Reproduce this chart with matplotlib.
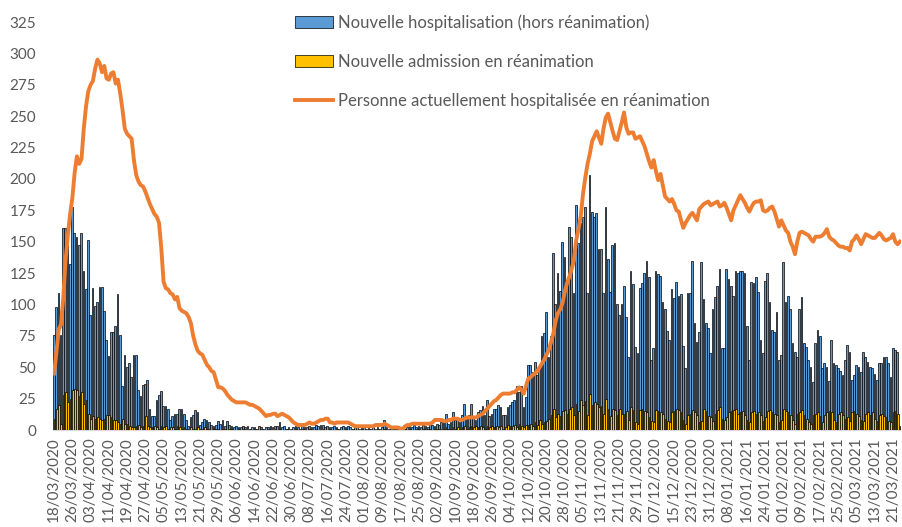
import matplotlib.pyplot as plt
import numpy as np
import pandas as pd

plt.rcParams['font.family'] = ['Lato', 'DejaVu Sans']

# one row = 8 days (one tick label), first day 18/03/2020
hosp = [
    76, 98, 109, 76, 161, 161, 147, 132,
    178, 157, 154, 147, 157, 127, 112, 151,
    92, 113, 99, 102, 114, 114, 95, 72,
    59, 78, 78, 83, 108, 76, 35, 60,
    50, 53, 42, 60, 60, 32, 27, 36,
    37, 40, 17, 11, 11, 24, 28, 31,
    19, 19, 17, 8, 11, 13, 13, 17,
    17, 13, 8, 3, 10, 12, 16, 14,
    4, 6, 9, 8, 6, 4, 3, 4,
    7, 5, 8, 3, 7, 4, 3, 2,
    3, 2, 2, 3, 2, 3, 1, 2,
    2, 1, 3, 2, 1, 2, 2, 3,
    2, 3, 3, 6, 2, 3, 1, 2,
    1, 2, 3, 2, 1, 3, 2, 2,
    3, 2, 2, 4, 3, 4, 4, 2,
    3, 2, 2, 3, 2, 1, 2, 3,
    2, 3, 2, 1, 2, 3, 1, 2,
    2, 1, 2, 1, 2, 1, 2, 1,
    2, 8, 2, 1, 1, 2, 1, 1,
    1, 2, 1, 2, 3, 2, 4, 2,
    3, 2, 4, 3, 2, 5, 4, 3,
    5, 4, 6, 8, 13, 5, 6, 14,
    8, 10, 6, 12, 21, 9, 12, 21,
    10, 8, 14, 16, 19, 12, 24, 11,
    13, 17, 17, 20, 18, 12, 12, 18,
    20, 22, 24, 35, 30, 35, 18, 26,
    52, 52, 46, 54, 44, 50, 75, 77,
    94, 58, 75, 141, 100, 125, 111, 150,
    138, 119, 162, 154, 109, 179, 149, 165,
    170, 178, 109, 203, 174, 170, 173, 144,
    144, 109, 178, 136, 110, 147, 149, 100,
    92, 100, 115, 90, 58, 127, 116, 66,
    61, 113, 117, 125, 135, 122, 56, 65,
    127, 124, 123, 102, 96, 79, 72, 112,
    105, 118, 107, 108, 67, 49, 109, 109,
    135, 85, 70, 78, 134, 104, 85, 81,
    61, 96, 106, 115, 128, 65, 65, 128,
    120, 115, 107, 127, 125, 127, 127, 125,
    83, 56, 118, 117, 122, 110, 72, 61,
    119, 125, 102, 80, 78, 94, 56, 60,
    134, 102, 107, 96, 69, 62, 58, 96,
    106, 69, 66, 56, 50, 38, 69, 80,
    75, 49, 53, 50, 39, 72, 53, 52,
    49, 47, 44, 56, 68, 62, 40, 44,
    52, 50, 46, 62, 58, 54, 50, 49,
    45, 40, 53, 53, 58, 58, 53, 42,
    65, 64, 62, 3,
]

rea = [
    9, 17, 20, 5, 28, 30, 22, 25,
    32, 33, 32, 27, 30, 21, 24, 13,
    9, 11, 9, 10, 9, 8, 9, 12,
    12, 10, 8, 8, 6, 5, 9, 5,
    5, 3, 2, 2, 3, 4, 2, 3,
    11, 3, 2, 2, 3, 2, 1, 3,
    2, 3, 1, 2, 2, 1, 3, 2,
    1, 2, 1, 0, 2, 1, 1, 2,
    1, 1, 2, 1, 1, 0, 1, 1,
    1, 0, 1, 1, 0, 1, 1, 0,
    0, 1, 0, 1, 0, 0, 1, 0,
    1, 0, 0, 1, 0, 0, 1, 0,
    0, 1, 0, 1, 0, 0, 1, 0,
    0, 0, 1, 0, 0, 1, 0, 0,
    1, 0, 0, 1, 0, 0, 1, 0,
    0, 1, 0, 0, 1, 0, 0, 0,
    1, 0, 0, 1, 0, 0, 0, 1,
    0, 0, 1, 0, 0, 0, 1, 0,
    0, 1, 0, 0, 0, 1, 0, 0,
    0, 0, 1, 0, 1, 0, 0, 1,
    1, 0, 1, 0, 1, 1, 0, 1,
    1, 1, 0, 1, 2, 1, 1, 2,
    1, 2, 1, 2, 3, 1, 2, 3,
    2, 3, 2, 3, 2, 1, 3, 2,
    3, 2, 3, 2, 3, 1, 2, 4,
    3, 3, 4, 2, 5, 3, 2, 4,
    4, 5, 3, 6, 4, 8, 5, 6,
    7, 9, 12, 17, 10, 13, 11, 15,
    16, 13, 17, 18, 12, 21, 15, 24,
    20, 23, 12, 29, 20, 22, 21, 18,
    19, 13, 25, 17, 11, 17, 16, 12,
    17, 13, 13, 15, 8, 18, 16, 6,
    5, 16, 17, 15, 14, 10, 7, 6,
    16, 15, 14, 13, 9, 7, 6, 14,
    15, 17, 16, 14, 8, 5, 12, 13,
    16, 14, 12, 6, 7, 17, 15, 11,
    10, 7, 13, 16, 18, 9, 8, 10,
    14, 15, 16, 17, 13, 14, 15, 12,
    8, 6, 14, 15, 13, 14, 12, 7,
    10, 15, 16, 14, 13, 12, 6, 8,
    17, 15, 14, 12, 8, 5, 13, 14,
    16, 12, 9, 6, 5, 12, 13, 14,
    11, 6, 12, 14, 15, 14, 8, 6,
    13, 14, 12, 9, 10, 7, 14, 15,
    13, 11, 8, 7, 13, 14, 12, 14,
    9, 7, 12, 13, 11, 10, 7, 6,
    14, 15, 13, 1,
]

en_rea = [
    45, 62, 80, 84, 105, 135, 155, 172,
    185, 205, 218, 212, 216, 240, 258, 270,
    275, 278, 288, 295, 292, 285, 290, 280,
    279, 284, 285, 276, 279, 268, 255, 240,
    236, 234, 232, 215, 203, 198, 195, 194,
    190, 185, 180, 176, 172, 170, 165, 145,
    118, 113, 112, 109, 108, 104, 106, 97,
    95, 94, 93, 90, 85, 75, 68, 63,
    61, 60, 56, 52, 50, 47, 46, 40,
    34, 34, 33, 31, 28, 26, 24, 23,
    22, 22, 22, 22, 22, 21, 20, 20,
    19, 18, 17, 15, 13, 11, 12, 12,
    13, 13, 11, 12, 13, 12, 11, 10,
    8, 6, 5, 4, 4, 4, 4, 5,
    6, 5, 5, 6, 7, 8, 8, 9,
    9, 6, 6, 5, 6, 6, 6, 6,
    6, 6, 5, 4, 3, 3, 3, 3,
    3, 3, 3, 3, 3, 4, 4, 4,
    4, 5, 4, 3, 2, 2, 2, 2,
    1, 1, 3, 4, 4, 5, 5, 5,
    5, 5, 5, 5, 5, 5, 6, 8,
    8, 8, 8, 7, 7, 8, 8, 9,
    9, 9, 8, 8, 9, 10, 10, 10,
    10, 10, 11, 12, 13, 15, 17, 19,
    21, 23, 24, 26, 28, 29, 29, 29,
    29, 30, 30, 32, 34, 32, 29, 35,
    41, 42, 44, 45, 47, 50, 53, 56,
    60, 64, 70, 77, 87, 93, 96, 101,
    110, 117, 122, 128, 135, 151, 160, 170,
    188, 201, 212, 220, 230, 234, 238, 233,
    228, 240, 249, 252, 245, 238, 232, 231,
    238, 245, 253, 241, 236, 237, 237, 232,
    233, 234, 230, 226, 220, 214, 209, 215,
    206, 199, 204, 195, 186, 184, 182, 184,
    180, 175, 174, 167, 161, 165, 168, 171,
    173, 170, 167, 176, 178, 180, 181, 182,
    179, 180, 181, 182, 178, 179, 181, 177,
    172, 167, 175, 179, 183, 187, 184, 181,
    177, 174, 178, 181, 182, 182, 183, 175,
    174, 175, 177, 178, 174, 168, 162, 167,
    163, 159, 157, 150, 146, 140, 150, 157,
    158, 157, 156, 155, 152, 150, 154, 154,
    154, 155, 157, 160, 154, 152, 151, 149,
    147, 146, 146, 145, 145, 143, 150, 152,
    155, 152, 148, 152, 156, 155, 154, 153,
    153, 155, 157, 155, 152, 151, 152, 153,
    156, 150, 148, 150,
]

dates = pd.date_range('2020-03-18', periods=len(hosp), freq='D')
labels = [d.strftime('%d/%m/%Y') for d in dates]

BLUE = '#5B9BD5'
YELLOW = '#FFC000'
ORANGE = '#ED7D31'
GREY = '#595959'

x = np.arange(len(hosp))

fig = plt.figure(figsize=(9.02, 5.27), dpi=100)
ax = fig.add_axes([53 / 902, 97 / 527, 848 / 902, 408 / 527])

b1 = ax.bar(x - 0.15, hosp, width=0.75, color=BLUE, edgecolor='black', linewidth=0.5,
            label='Nouvelle hospitalisation (hors réanimation)', zorder=2)
b2 = ax.bar(x + 0.15, rea, width=0.75, color=YELLOW, edgecolor='black', linewidth=0.5,
            label='Nouvelle admission en réanimation', zorder=3)
ln, = ax.plot(x, en_rea, color=ORANGE, linewidth=2.8, solid_joinstyle='round',
              label='Personne actuellement hospitalisée en réanimation', zorder=4)

ax.set_xlim(-0.5, len(hosp) - 0.5)
ax.set_ylim(0, 325)
ax.set_yticks(np.arange(0, 326, 25))
ax.set_xticks(x[::8])
ax.set_xticklabels(labels[::8], rotation=90)

for s in ['top', 'right', 'left']:
    ax.spines[s].set_visible(False)
ax.spines['bottom'].set_color('#D9D9D9')
ax.tick_params(axis='both', length=0, labelsize=11, labelcolor=GREY)
ax.tick_params(axis='y', pad=12)
ax.tick_params(axis='x', pad=5)

leg = fig.legend(handles=[b1, b2, ln], loc='upper left',
                 bbox_to_anchor=(295 / 902, 1 - 14 / 527),
                 frameon=False, fontsize=12, labelcolor=GREY, borderpad=0,
                 borderaxespad=0, handlelength=2.3, handletextpad=0.3,
                 labelspacing=1.38)

fig.savefig('out.png', dpi=100)
